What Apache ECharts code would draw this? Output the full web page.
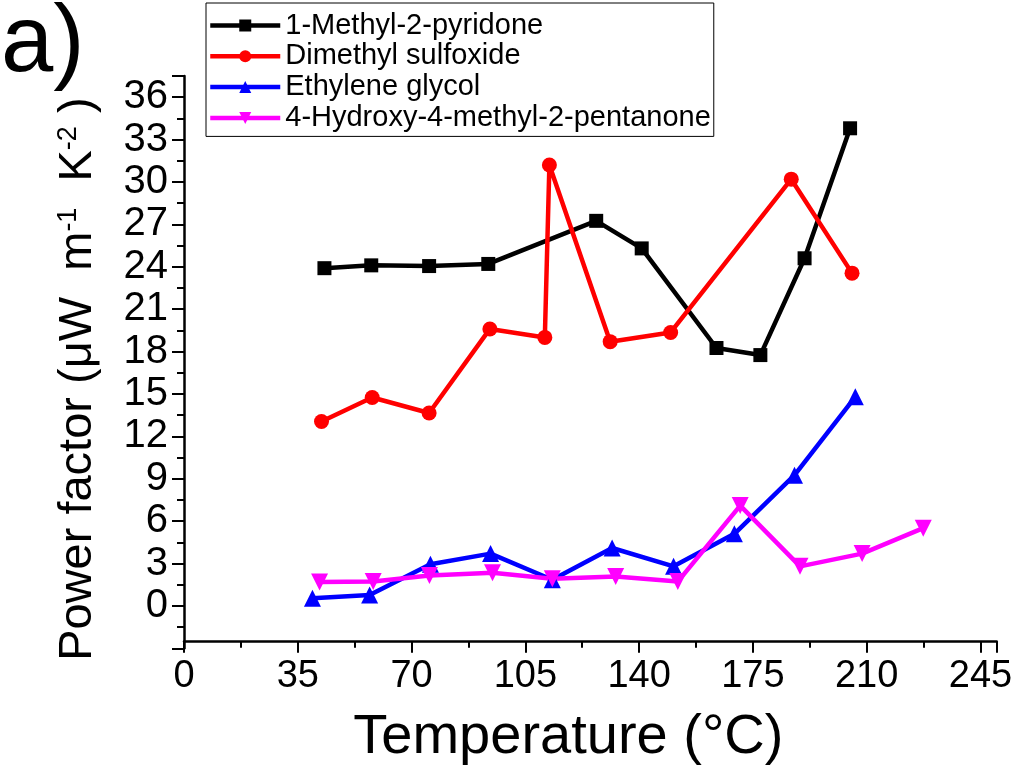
<!DOCTYPE html>
<html>
<head>
<meta charset="utf-8">
<script src="https://cdn.jsdelivr.net/npm/echarts@6/dist/echarts.min.js"></script>
<style>
html,body{margin:0;padding:0;background:#fff;}
#chart{width:1017px;height:765px;}
</style>
</head>
<body>
<div id="chart"></div>
<script>
var seriesNames = ['1-Methyl-2-pyridone', 'Dimethyl sulfoxide', 'Ethylene glycol', '4-Hydroxy-4-methyl-2-pentanone'];

var pyridoneX = [43.2, 57.6, 75.4, 93.6, 126.8, 140.8, 163.8, 177.3, 190.9, 204.9];
var pyridoneY = [23.9, 24.1, 24.05, 24.2, 27.25, 25.3, 18.25, 17.75, 24.6, 33.8];

var dmsoX = [42.3, 57.9, 75.4, 94.1, 111.0, 112.4, 131.1, 149.7, 186.8, 205.5];
var dmsoY = [13.05, 14.75, 13.65, 19.6, 19.0, 31.2, 18.7, 19.35, 30.2, 23.55];

var glycolX = [39.5, 57.1, 75.8, 94.3, 113.3, 131.7, 150.6, 169.3, 187.8, 206.5];
var glycolY = [0.55, 0.78, 2.95, 3.7, 1.85, 4.1, 2.8, 5.1, 9.25, 14.8];

var pentanoneX = [41.7, 58.2, 75.5, 94.9, 113.3, 132.8, 151.9, 171.1, 189.5, 208.6, 227.4];
var pentanoneY = [1.7, 1.72, 2.15, 2.35, 1.92, 2.08, 1.72, 7.1, 2.8, 3.7, 5.5];

var xTicks = [0, 35, 70, 105, 140, 175, 210, 245];
var yTicks = [0, 3, 6, 9, 12, 15, 18, 21, 24, 27, 30, 33, 36];

function pairs(xs, ys) {
  return xs.map(function (x, i) { return [x, ys[i]]; });
}

var FONT = "'Liberation Sans', Arial, sans-serif";
var chart = echarts.init(document.getElementById('chart'), null, {renderer: 'canvas'});

function makeSeries(name, xs, ys, color, symbol, size, rotate) {
  return {
    name: name,
    type: 'line',
    data: pairs(xs, ys),
    symbol: symbol,
    symbolSize: size,
    symbolRotate: rotate || 0,
    showAllSymbol: true,
    lineStyle: {color: color, width: 4.5},
    itemStyle: {color: color},
    emphasis: {disabled: true},
    animation: false,
    z: 3
  };
}

var option = {
  animation: false,
  backgroundColor: '#ffffff',
  grid: {left: 184, right: 20.3, top: 76, bottom: 116.7, containLabel: false, outerBoundsMode: 'none'},
  legend: {
    orient: 'vertical',
    left: 206,
    top: 3,
    itemWidth: 70,
    itemHeight: 15,
    itemGap: 1.8,
    padding: [8, 3, 4, 2],
    borderColor: '#000',
    borderWidth: 1,
    backgroundColor: '#fff',
    lineStyle: {width: 4.5},
    textStyle: {fontFamily: FONT, fontSize: 29, color: '#000', lineHeight: 29},
    data: seriesNames
  },
  xAxis: {
    type: 'value',
    min: 0,
    max: 250,
    interval: 35,
    offset: -6.6,
    name: 'Temperature (°C)',
    nameLocation: 'middle',
    nameGap: 68,
    nameTextStyle: {fontFamily: FONT, fontSize: 56, color: '#000', padding: [0, 44, 0, 0]},
    axisLine: {show: true, onZero: false, lineStyle: {color: '#000', width: 2.5}},
    axisTick: {show: true, inside: false, length: 11, lineStyle: {color: '#000', width: 2}},
    minorTick: {show: true, splitNumber: 2, length: 6, lineStyle: {color: '#000', width: 2}},
    splitLine: {show: false},
    axisLabel: {
      fontFamily: FONT, fontSize: 38, color: '#000', margin: 16,
      showMaxLabel: false,
      formatter: function (v) { return xTicks.indexOf(v) >= 0 ? String(v) : ''; }
    }
  },
  yAxis: {
    type: 'value',
    min: -3,
    max: 37.5,
    interval: 3,
    name: '{a|Power factor (μW  m}{s|-1}{a|  K}{s|-2}{a| )}',
    nameLocation: 'middle',
    nameGap: 82,
    nameRotate: 90,
    nameTextStyle: {
      fontFamily: FONT, color: '#000', padding: [0, 34, 0, 0],
      rich: {
        a: {fontFamily: FONT, fontSize: 47, color: '#000'},
        s: {fontFamily: FONT, fontSize: 27, color: '#000', verticalAlign: 'top', lineHeight: 47}
      }
    },
    axisLine: {show: true, onZero: false, lineStyle: {color: '#000', width: 2.5}},
    axisTick: {show: true, inside: false, length: 12, lineStyle: {color: '#000', width: 2}},
    minorTick: {show: true, splitNumber: 2, length: 7, lineStyle: {color: '#000', width: 2}},
    splitLine: {show: false},
    axisLabel: {
      fontFamily: FONT, fontSize: 40, color: '#000', margin: 16,
      showMinLabel: false, showMaxLabel: false,
      formatter: function (v) { return yTicks.indexOf(v) >= 0 ? String(v) : ''; }
    }
  },
  graphic: [{
    type: 'text',
    left: 1,
    top: -2,
    style: {text: 'a)', fontFamily: FONT, fontSize: 94, fill: '#000'}
  }],
  series: [
    makeSeries(seriesNames[0], pyridoneX, pyridoneY, '#000000', 'rect', 14),
    makeSeries(seriesNames[1], dmsoX, dmsoY, '#ff0000', 'circle', 15),
    makeSeries(seriesNames[2], glycolX, glycolY, '#0000ff', 'triangle', 17),
    makeSeries(seriesNames[3], pentanoneX, pentanoneY, '#ff00ff', 'triangle', 17, 180)
  ]
};
chart.setOption(option);
</script>
</body>
</html>
